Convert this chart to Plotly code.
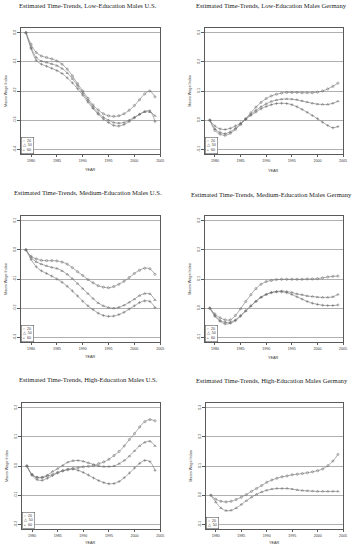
import plotly.graph_objects as go

years = list(range(1979, 2005))
x_ticks = [1980, 1985, 1990, 1995, 2000, 2005]

# ---- Low-education males U.S.
us_low_20 = [0, -0.040, -0.068, -0.080, -0.085, -0.090, -0.097, -0.108, -0.125, -0.148, -0.175, -0.200, -0.225,
             -0.248, -0.265, -0.278, -0.285, -0.287, -0.285, -0.278, -0.266, -0.250, -0.230, -0.210, -0.200, -0.220]
us_low_50 = [0, -0.050, -0.085, -0.097, -0.102, -0.107, -0.113, -0.123, -0.138, -0.158, -0.182, -0.207, -0.232,
             -0.255, -0.275, -0.290, -0.300, -0.308, -0.310, -0.308, -0.300, -0.290, -0.280, -0.272, -0.272, -0.285]
us_low_60 = [0, -0.055, -0.095, -0.108, -0.115, -0.122, -0.130, -0.140, -0.155, -0.172, -0.192, -0.214, -0.238,
             -0.260, -0.280, -0.296, -0.308, -0.318, -0.320, -0.315, -0.305, -0.292, -0.280, -0.270, -0.268, -0.305]
us_low_ticks = [0.0, -0.1, -0.2, -0.3, -0.4]

# ---- Low-education males Germany
de_low_20 = [0, -0.035, -0.048, -0.052, -0.045, -0.032, -0.015, 0.005, 0.025, 0.045, 0.061, 0.074, 0.083,
             0.089, 0.093, 0.095, 0.095, 0.095, 0.094, 0.094, 0.094, 0.096, 0.100, 0.107, 0.116, 0.127]
de_low_50 = [0, -0.030, -0.042, -0.046, -0.040, -0.028, -0.013, 0.004, 0.020, 0.034, 0.046, 0.056, 0.064,
             0.069, 0.072, 0.073, 0.072, 0.070, 0.066, 0.062, 0.058, 0.055, 0.054, 0.054, 0.058, 0.065]
de_low_60 = [0, -0.020, -0.030, -0.032, -0.028, -0.020, -0.010, 0.003, 0.016, 0.028, 0.039, 0.047, 0.053,
             0.057, 0.058, 0.057, 0.053, 0.046, 0.037, 0.027, 0.016, 0.005, -0.007, -0.018, -0.026, -0.022]
de_ticks = [0.3, 0.2, 0.1, 0.0, -0.1]

# ---- Medium-education males U.S.
us_med_20 = [0, -0.022, -0.031, -0.036, -0.037, -0.037, -0.038, -0.042, -0.049, -0.061, -0.075, -0.088, -0.102,
             -0.113, -0.123, -0.128, -0.130, -0.126, -0.118, -0.108, -0.095, -0.081, -0.070, -0.063, -0.065, -0.084]
us_med_50 = [0, -0.026, -0.041, -0.049, -0.055, -0.060, -0.064, -0.072, -0.084, -0.099, -0.116, -0.133, -0.150,
             -0.167, -0.182, -0.192, -0.198, -0.200, -0.197, -0.190, -0.180, -0.169, -0.157, -0.150, -0.151, -0.172]
us_med_60 = [0, -0.033, -0.058, -0.072, -0.081, -0.090, -0.100, -0.111, -0.125, -0.141, -0.158, -0.176, -0.192,
             -0.205, -0.217, -0.225, -0.228, -0.227, -0.222, -0.214, -0.203, -0.192, -0.181, -0.175, -0.177, -0.198]
us_med_ticks = [0.1, 0.0, -0.1, -0.2, -0.3]

# ---- Medium-education males Germany
de_med_20 = [0, -0.020, -0.033, -0.040, -0.040, -0.025, -0.002, 0.023, 0.046, 0.067, 0.082, 0.091, 0.095,
             0.098, 0.099, 0.099, 0.099, 0.099, 0.099, 0.100, 0.100, 0.101, 0.104, 0.107, 0.109, 0.110]
de_med_50 = [0, -0.025, -0.042, -0.048, -0.048, -0.040, -0.025, -0.009, 0.008, 0.024, 0.038, 0.047, 0.054,
             0.057, 0.059, 0.057, 0.054, 0.049, 0.046, 0.042, 0.040, 0.038, 0.037, 0.037, 0.039, 0.047]
de_med_60 = [0, -0.028, -0.045, -0.054, -0.052, -0.043, -0.028, -0.010, 0.007, 0.023, 0.037, 0.047, 0.053,
             0.056, 0.056, 0.053, 0.047, 0.039, 0.031, 0.023, 0.017, 0.013, 0.010, 0.009, 0.009, 0.011]

# ---- High-education males U.S.
us_high_20 = [0, -0.029, -0.040, -0.040, -0.035, -0.029, -0.022, -0.016, -0.011, -0.008, -0.006, -0.003, -0.001,
              0.001, 0.008, 0.014, 0.023, 0.036, 0.050, 0.069, 0.091, 0.111, 0.134, 0.152, 0.159, 0.155]
us_high_50 = [0, -0.029, -0.038, -0.038, -0.031, -0.019, -0.009, 0.002, 0.013, 0.018, 0.019, 0.016, 0.011,
              0.005, 0.000, -0.002, -0.002, 0.000, 0.008, 0.019, 0.034, 0.052, 0.069, 0.081, 0.085, 0.069]
us_high_60 = [0, -0.032, -0.047, -0.049, -0.042, -0.033, -0.024, -0.017, -0.013, -0.011, -0.015, -0.022, -0.031,
              -0.041, -0.050, -0.057, -0.061, -0.060, -0.053, -0.040, -0.024, -0.007, 0.009, 0.019, 0.015, -0.015]
us_high_ticks = [0.2, 0.1, 0.0, -0.1, -0.2]

# ---- High-education males Germany
de_high_20 = [0, -0.014, -0.021, -0.023, -0.021, -0.015, -0.007, 0.002, 0.013, 0.023, 0.033, 0.044, 0.052,
              0.058, 0.063, 0.066, 0.070, 0.072, 0.074, 0.077, 0.080, 0.084, 0.090, 0.101, 0.117, 0.140]
de_high_50 = [0, -0.024, -0.044, -0.053, -0.052, -0.044, -0.032, -0.019, -0.007, 0.003, 0.011, 0.017, 0.021,
              0.023, 0.023, 0.023, 0.021, 0.018, 0.016, 0.015, 0.014, 0.013, 0.013, 0.013, 0.013, 0.013]

age_labels = ["20", "50", "60"]
symbols = {"20": "circle-open", "50": "triangle-up-open", "60": "cross-thin-open"}
legend_glyph = {"20": "○", "50": "△", "60": "+"}

panels = [
    ("Estimated Time-Trends, Low-Education Males U.S.", {"20": us_low_20, "50": us_low_50, "60": us_low_60}, us_low_ticks),
    ("Estimated Time-Trends, Low-Education Males Germany", {"20": de_low_20, "50": de_low_50, "60": de_low_60}, de_ticks),
    ("Estimated Time-Trends, Medium-Education Males U.S.", {"20": us_med_20, "50": us_med_50, "60": us_med_60}, us_med_ticks),
    ("Estimated Time-Trends, Medium-Education Males Germany", {"20": de_med_20, "50": de_med_50, "60": de_med_60}, de_ticks),
    ("Estimated Time-Trends, High-Education Males U.S.", {"20": us_high_20, "50": us_high_50, "60": us_high_60}, us_high_ticks),
    ("Estimated Time-Trends, High-Education Males Germany", {"20": de_high_20, "50": de_high_50}, de_ticks),
]

W, H = 356, 550
# panel boxes in pixels (left, right, top, bottom)
boxes = [(21, 162, 28, 154), (207, 347, 28, 154),
         (21, 162, 216, 342), (207, 347, 216, 342),
         (22, 162, 403, 529), (208, 347, 403, 529)]
title_y = [6, 6, 193, 194, 379, 380]
year_y = [170, 171, 357, 358, 543, 543]

LINE = "#5a5a5a"
fig = go.Figure()
layout = dict(
    width=W, height=H, margin=dict(l=0, r=0, t=0, b=0),
    paper_bgcolor="white", plot_bgcolor="white", showlegend=False,
    font=dict(family="Liberation Sans, Arial, sans-serif", color="#333"),
)
annotations = []

for i, ((title, series, ticks), box, ty, yy) in enumerate(zip(panels, boxes, title_y, year_y)):
    n = i + 1
    xa = "x" if n == 1 else f"x{n}"
    ya = "y" if n == 1 else f"y{n}"
    l, r, t, b = box
    lo, hi = min(ticks), max(ticks)
    pad = (hi - lo) * 0.04
    layout["xaxis" if n == 1 else f"xaxis{n}"] = dict(
        domain=[l / W, r / W], anchor=ya, range=[1978, 2005],
        tickvals=x_ticks, ticks="outside", ticklen=2.5, tickwidth=0.6, tickcolor=LINE,
        showline=True, mirror=True, linecolor=LINE, linewidth=0.7,
        showgrid=False, zeroline=False, tickfont=dict(size=3.6, color="#333"),
    )
    layout["yaxis" if n == 1 else f"yaxis{n}"] = dict(
        domain=[1 - b / H, 1 - t / H], anchor=xa, range=[lo - pad, hi + pad],
        tickvals=ticks, ticktext=[f"{v:.1f}" for v in ticks], tickangle=-90,
        ticks="outside", ticklen=2.5, tickwidth=0.6, tickcolor=LINE,
        showline=True, mirror=True, linecolor=LINE, linewidth=0.7,
        showgrid=True, gridcolor="#b0b0b0", gridwidth=1.1, zeroline=False,
        tickfont=dict(size=3.6, color="#333"),
    )
    for age, vals in series.items():
        fig.add_trace(go.Scatter(
            x=years, y=vals, mode="lines+markers", name=age, xaxis=xa, yaxis=ya,
            line=dict(color="#777777", width=0.6, shape="spline"),
            marker=dict(symbol=symbols[age], size=2.2, color="#666", line=dict(width=0.5, color="#666")),
        ))
    cx = (l + r) / 2
    annotations.append(dict(text=title, x=(cx - 2) / W, y=1 - ty / H, xref="paper", yref="paper",
                            xanchor="center", yanchor="middle", showarrow=False,
                            font=dict(family="Liberation Serif, Times New Roman, serif", size=6.6, color="#222")))
    annotations.append(dict(text="YEAR", x=cx / W, y=1 - yy / H, xref="paper", yref="paper",
                            xanchor="center", yanchor="middle", showarrow=False,
                            font=dict(size=3.8, color="#333")))
    annotations.append(dict(text="Macro Wage Index", x=(l - 15) / W, y=1 - (t + b) / 2 / H, xref="paper", yref="paper",
                            xanchor="center", yanchor="middle", showarrow=False, textangle=-90,
                            font=dict(size=3.8, color="#333")))
    leg = "<br>".join(f"{legend_glyph[a]}  {a}" for a in series.keys())
    annotations.append(dict(text=leg, x=0, y=0, xref=f"{xa} domain", yref=f"{ya} domain",
                            xanchor="left", yanchor="bottom", showarrow=False, align="left",
                            bordercolor=LINE, borderwidth=0.6, borderpad=1.2, bgcolor="white",
                            font=dict(size=3.6, color="#333")))

layout["annotations"] = annotations
fig.update_layout(**layout)
fig.write_html("out.html",
               config={"displayModeBar": False},
               post_script="document.body.style.margin='0';document.body.style.overflow='hidden';")
